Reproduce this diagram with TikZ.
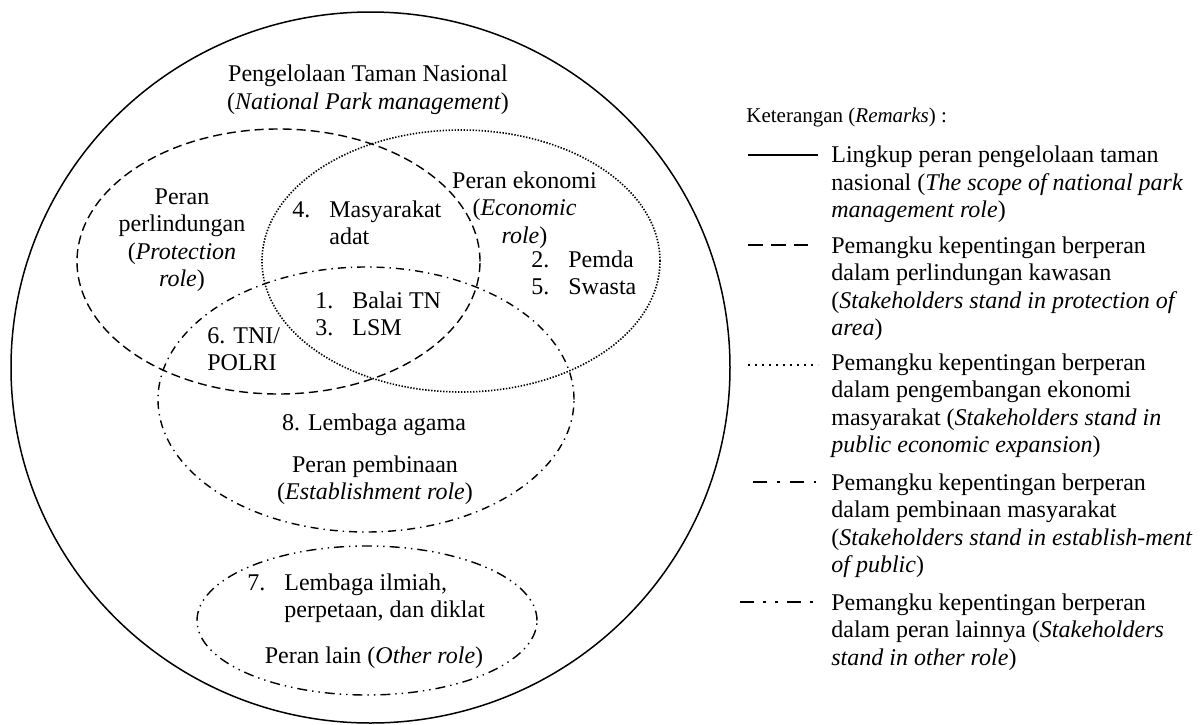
\documentclass[tikz,border=0pt]{standalone}
\usepackage{fontspec}
\setmainfont{Liberation Serif}
\usetikzlibrary{shapes.geometric}
\newcommand{\numlabel}[1]{\makebox[18.5pt][l]{#1}}
\newcommand{\numskip}{\hspace*{18.5pt}}

\begin{document}
\begin{tikzpicture}[x=0.5pt,y=-0.5pt,
	txt/.style={inner sep=0pt,font=\fontsize{12}{13.75}\selectfont},
	ring/.style={draw,ellipse,inner sep=0pt,outer sep=0pt,line width=0.7pt},
	scopeline/.style={line width=0.75pt},
	protline/.style={dash pattern=on 4.5pt off 2.5pt},
	econline/.style={line width=0.8pt,dash pattern=on 0.7pt off 0.8pt},
	binaline/.style={dash pattern=on 4pt off 2.5pt on 0.7pt off 2.5pt},
	otherline/.style={dash pattern=on 5pt off 2.5pt on 0.7pt off 2.5pt on 0.7pt off 2.5pt},
	keyline/.style={line width=1.3pt}
	]
	\useasboundingbox (0,0) rectangle (1201,724);
	
	\node	(park) at (370.5,367.5) [ring,scopeline,minimum width=359.5pt,minimum height=355.5pt] {};
	\node	(prot) at (278.5,261.5) [ring,protline,minimum width=201.5pt,minimum height=132.5pt] {};
	\node	(econ) at (461,261) [ring,econline,minimum width=199pt,minimum height=131pt] {};
	\node	(bina) at (366,399.5) [ring,binaline,minimum width=208pt,minimum height=132.5pt] {};
	\node	(other) at (367,620.5) [ring,otherline,minimum width=170pt,minimum height=74.5pt] {};
	
	\node	(title) at (368,81.7) [txt,anchor=base] {\begin{tabular}[t]{@{}c@{}}Pengelolaan Taman Nasional\\(\textit{National Park management})\end{tabular}};
	\node	(prottxt) at (182,204) [txt,anchor=base] {\begin{tabular}[t]{@{}c@{}}Peran\\perlindungan\\(\textit{Protection}\\\textit{role})\end{tabular}};
	\node	(masy) at (292,217) [txt,anchor=base west] {\begin{tabular}[t]{@{}l@{}}\numlabel{4.}Masyarakat\\\numskip adat\end{tabular}};
	\node	(econtxt) at (524.5,188) [txt,anchor=base] {\begin{tabular}[t]{@{}c@{}}Peran ekonomi\\(\textit{Economic}\\\textit{role})\end{tabular}};
	\node	(pemda) at (531,267) [txt,anchor=base west] {\begin{tabular}[t]{@{}l@{}}\numlabel{2.}Pemda\\\numlabel{5.}Swasta\end{tabular}};
	\node	(balai) at (315,308) [txt,anchor=base west] {\begin{tabular}[t]{@{}l@{}}\numlabel{1.}Balai TN\\\numlabel{3.}LSM\end{tabular}};
	\node	(tni) at (207,343) [txt,anchor=base west] {\begin{tabular}[t]{@{}l@{}}6. TNI/\\POLRI\end{tabular}};
	\node	(agama) at (374,430) [txt,anchor=base] {8. Lembaga agama};
	\node	(binatxt) at (375,472) [txt,anchor=base] {\begin{tabular}[t]{@{}c@{}}Peran pembinaan\\(\textit{Establishment role})\end{tabular}};
	\node	(ilmiah) at (247,590) [txt,anchor=base west] {\begin{tabular}[t]{@{}l@{}}\numlabel{7.}Lembaga ilmiah,\\\numskip perpetaan, dan diklat\end{tabular}};
	\node	(othertxt) at (374,663) [txt,anchor=base] {Peran lain (\textit{Other role})};
	
	\node	(ket) at (746,122) [inner sep=0pt,anchor=base west,font=\fontsize{10.5}{12}\selectfont] {Keterangan (\textit{Remarks}) :};
	\node	(leg1) at (831,162.5) [txt,anchor=base west] {\begin{tabular}[t]{@{}l@{}}Lingkup peran pengelolaan taman\\nasional (\textit{The scope of national park}\\\textit{management role})\end{tabular}};
	\node	(leg2) at (831,253) [txt,anchor=base west] {\begin{tabular}[t]{@{}l@{}}Pemangku kepentingan berperan\\dalam perlindungan kawasan\\(\textit{Stakeholders stand in protection of}\\\textit{area})\end{tabular}};
	\node	(leg3) at (831,370) [txt,anchor=base west] {\begin{tabular}[t]{@{}l@{}}Pemangku kepentingan berperan\\dalam pengembangan ekonomi\\masyarakat (\textit{Stakeholders stand in}\\\textit{public economic expansion})\end{tabular}};
	\node	(leg4) at (831,490) [txt,anchor=base west] {\begin{tabular}[t]{@{}l@{}}Pemangku kepentingan berperan\\dalam pembinaan masyarakat\\(\textit{Stakeholders stand in establish-ment}\\\textit{of public})\end{tabular}};
	\node	(leg5) at (831,610) [txt,anchor=base west] {\begin{tabular}[t]{@{}l@{}}Pemangku kepentingan berperan\\dalam peran lainnya (\textit{Stakeholders}\\\textit{stand in other role})\end{tabular}};
	
	\coordinate	(k1a) at (748,155);
	\coordinate	(k1b) at (818,155);
	\coordinate	(k2a) at (748,245);
	\coordinate	(k2b) at (808,245);
	\coordinate	(k3a) at (748,365);
	\coordinate	(k3b) at (818,365);
	\coordinate	(k4a) at (753,482);
	\coordinate	(k4b) at (816,482);
	\coordinate	(k5a) at (740,602);
	\coordinate	(k5b) at (818,602);
	\draw[keyline] (k1a) -- (k1b);
	\draw[keyline,dash pattern=on 7.5pt off 4pt] (k2a) -- (k2b);
	\draw[keyline,dash pattern=on 0.9pt off 2.6pt] (k3a) -- (k3b);
	\draw[keyline,dash pattern=on 7pt off 5pt on 1.5pt off 5pt] (k4a) -- (k4b);
	\draw[keyline,dash pattern=on 7pt off 4.5pt on 1.5pt off 4.5pt on 1.5pt off 4.5pt] (k5a) -- (k5b);
\end{tikzpicture}
\end{document}
